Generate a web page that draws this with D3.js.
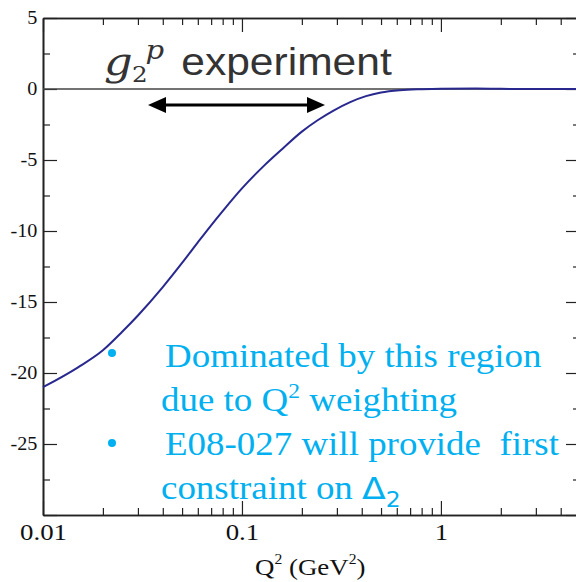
<!DOCTYPE html>
<html>
<head>
<meta charset="utf-8">
<script src="https://cdn.jsdelivr.net/npm/d3@7"></script>
<style>
  body { margin: 0; background: #fff; }
  svg { display: block; }
</style>
</head>
<body>
<div id="chart"></div>
<script>
// Q^2 (GeV^2) and the integrand curve
var qValues = [0.01, 0.015, 0.02, 0.025, 0.03, 0.04, 0.05, 0.06, 0.07, 0.08, 0.1, 0.13, 0.16, 0.2, 0.24, 0.29, 0.35, 0.42, 0.5, 0.62, 0.8, 1.0, 1.5, 2, 3, 5];
var curveValues = [-21.0, -19.6, -18.4, -17.1, -15.95, -13.95, -12.25, -10.8, -9.6, -8.6, -7.0, -5.36, -4.2, -3.0, -2.2, -1.5, -0.92, -0.5, -0.24, -0.08, -0.01, 0.02, 0.03, 0.01, 0, 0];
var xMajorTicks = [0.01, 0.1, 1];
var xTickLabels = ["0.01", "0.1", "1"];
var yMajorTicks = [-30, -25, -20, -15, -10, -5, 0, 5];
var yMinorTicks = [-27.5, -22.5, -17.5, -12.5, -7.5, -2.5, 2.5];
var yTickLabels = {"-25": "-25", "-20": "-20", "-15": "-15", "-10": "-10", "-5": "-5", "0": "0", "5": "5"};

var W = 576, H = 582;
var m = {top: 18, right: -4, bottom: 67, left: 43};
var SX = 1.12; // the picture is stretched a little sideways
var blue = "#00b0f0";
var serif = "Liberation Serif, Times New Roman, serif";

var svg = d3.select("#chart").append("svg").attr("width", W).attr("height", H);

var x = d3.scaleLog().domain([0.01, 5]).range([m.left, W - m.right]);
var y = d3.scaleLinear().domain([-30, 5]).range([H - m.bottom, m.top]);
var xMinorTicks = x.ticks().filter(function(d) { return xMajorTicks.indexOf(d) < 0; });

function styleAxis(g) {
  g.select(".domain").attr("stroke", "#222").attr("stroke-width", 1.6);
  g.selectAll(".tick line").attr("stroke", "#222").attr("stroke-width", 1.2);
}

// bottom axis with labels
var gB = svg.append("g").attr("transform", "translate(0," + y(-30) + ")")
  .call(d3.axisBottom(x).tickValues(xMajorTicks).tickSizeInner(-14).tickSizeOuter(0).tickPadding(8)
    .tickFormat(function(d, i) { return xTickLabels[i]; }));
svg.append("g").attr("transform", "translate(0," + y(-30) + ")")
  .call(d3.axisBottom(x).tickValues(xMinorTicks).tickSizeInner(-7).tickSizeOuter(0).tickFormat(""))
  .call(styleAxis);
gB.call(styleAxis);
gB.selectAll("text").attr("font-family", serif).attr("font-size", 24)
  .attr("fill", "#111").attr("transform", "scale(" + SX + ",1)");

// top axis, ticks only
svg.append("g").attr("transform", "translate(0," + y(5) + ")")
  .call(d3.axisBottom(x).tickValues(xMajorTicks).tickSizeInner(14).tickSizeOuter(0).tickFormat(""))
  .call(styleAxis);
svg.append("g").attr("transform", "translate(0," + y(5) + ")")
  .call(d3.axisBottom(x).tickValues(xMinorTicks).tickSizeInner(7).tickSizeOuter(0).tickFormat(""))
  .call(styleAxis);

// left axis with labels
var gL = svg.append("g").attr("transform", "translate(" + m.left + ",0)")
  .call(d3.axisLeft(y).tickValues(yMajorTicks).tickSizeInner(-14).tickSizeOuter(0).tickPadding(5)
    .tickFormat(function(d) { return yTickLabels[d] || ""; }));
svg.append("g").attr("transform", "translate(" + m.left + ",0)")
  .call(d3.axisLeft(y).tickValues(yMinorTicks).tickSizeInner(-7).tickSizeOuter(0).tickFormat(""))
  .call(styleAxis);
gL.call(styleAxis);
gL.selectAll("text").attr("font-family", serif).attr("font-size", 18)
  .attr("fill", "#111").attr("transform", "scale(" + SX + ",1)");

// right axis, ticks only
svg.append("g").attr("transform", "translate(" + (W - m.right) + ",0)")
  .call(d3.axisLeft(y).tickValues(yMajorTicks).tickSizeInner(14).tickSizeOuter(0).tickFormat(""))
  .call(styleAxis);
svg.append("g").attr("transform", "translate(" + (W - m.right) + ",0)")
  .call(d3.axisLeft(y).tickValues(yMinorTicks).tickSizeInner(7).tickSizeOuter(0).tickFormat(""))
  .call(styleAxis);

// zero line
svg.append("line").attr("x1", m.left).attr("x2", W).attr("y1", y(0)).attr("y2", y(0))
  .attr("stroke", "#444").attr("stroke-width", 1.5);

// the curve
var pts = qValues.map(function(q, i) { return [q, curveValues[i]]; });
svg.append("path").datum(pts)
  .attr("fill", "none").attr("stroke", "#28288f").attr("stroke-width", 2)
  .attr("d", d3.line().x(function(d) { return x(d[0]); }).y(function(d) { return y(d[1]); }).curve(d3.curveMonotoneX));

// x axis title
var xt = svg.append("text").attr("transform", "translate(255,575) scale(" + SX + ",1)")
  .attr("font-family", serif).attr("font-size", 24).attr("fill", "#111");
xt.append("tspan").text("Q");
xt.append("tspan").attr("font-size", 14).attr("dy", -11).text("2");
xt.append("tspan").attr("dy", 11).text(" (GeV");
xt.append("tspan").attr("font-size", 14).attr("dy", -11).text("2");
xt.append("tspan").attr("dy", 11).text(")");

// g2p experiment label
var gl = svg.append("g").attr("transform", "translate(104,75) scale(" + SX + ",1)").attr("fill", "#333");
gl.append("text").attr("font-family", "DejaVu Serif, serif").attr("font-style", "italic").attr("font-size", 40).text("g");
gl.append("text").attr("x", 25).attr("y", 7).attr("font-family", "DejaVu Serif, serif").attr("font-size", 22).text("2");
gl.append("text").attr("x", 37).attr("y", -16).attr("font-family", "DejaVu Serif, serif").attr("font-style", "italic").attr("font-size", 26).text("p");
gl.append("text").attr("x", 69).attr("font-family", "Liberation Sans, Arial, sans-serif").attr("font-size", 38).text("experiment");

// double arrow
var ay = 105;
svg.append("line").attr("x1", 160).attr("x2", 313).attr("y1", ay).attr("y2", ay).attr("stroke", "#000").attr("stroke-width", 3);
svg.append("path").attr("fill", "#000")
  .attr("d", "M148," + ay + "L166," + (ay - 8) + "L166," + (ay + 8) + "Z");
svg.append("path").attr("fill", "#000")
  .attr("d", "M325," + ay + "L307," + (ay - 8) + "L307," + (ay + 8) + "Z");

// blue bullet notes
function note(px, py) {
  return svg.append("text").attr("transform", "translate(" + px + "," + py + ") scale(" + SX + ",1)")
    .attr("font-family", serif).attr("font-size", 33).attr("fill", blue).style("white-space", "pre");
}
svg.append("circle").attr("cx", 112).attr("cy", 353).attr("r", 4).attr("fill", blue);
svg.append("circle").attr("cx", 112).attr("cy", 443).attr("r", 4).attr("fill", blue);
note(165, 367).text("Dominated by this region");
var n2 = note(161, 411);
n2.append("tspan").text("due to Q");
n2.append("tspan").attr("font-size", 21).attr("dy", -13).text("2");
n2.append("tspan").attr("dy", 13).text(" weighting");
note(165, 455).text("E08-027 will provide  first");
var n4 = note(161, 499);
n4.append("tspan").text("constraint on ");
n4.append("tspan").attr("font-family", "DejaVu Sans, sans-serif").attr("font-size", 31).text("Δ");
n4.append("tspan").attr("font-family", "DejaVu Sans, sans-serif").attr("font-size", 21).attr("dy", 8).text("2");
</script>
</body>
</html>
